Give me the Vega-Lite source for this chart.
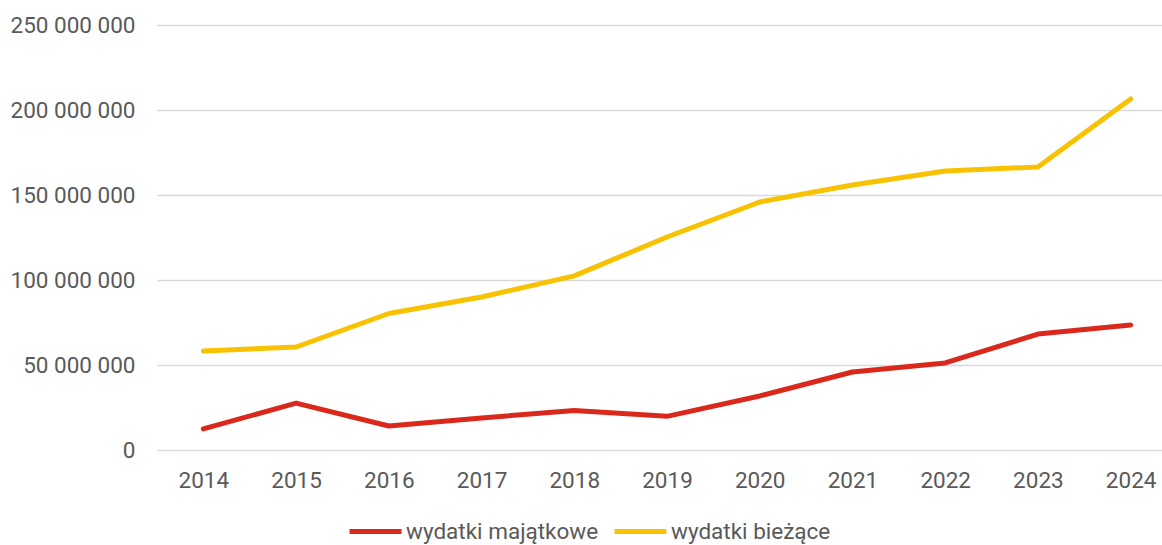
{
  "$schema": "https://vega.github.io/schema/vega-lite/v6.json",
  "autosize": "none",
  "width": 1020,
  "height": 425,
  "padding": {"left": 157, "top": 25, "right": 0, "bottom": 95},
  "background": "white",
  "config": {
    "font": "Roboto",
    "view": {"stroke": null},
    "locale": {"number": {"decimal": ",", "thousands": " ", "grouping": [3], "currency": ["", ""]}}
  },
  "data": {"values": [
    {"rok": "2014", "seria": "wydatki majątkowe", "wartosc": 12400000},
    {"rok": "2015", "seria": "wydatki majątkowe", "wartosc": 27600000},
    {"rok": "2016", "seria": "wydatki majątkowe", "wartosc": 14100000},
    {"rok": "2017", "seria": "wydatki majątkowe", "wartosc": 18800000},
    {"rok": "2018", "seria": "wydatki majątkowe", "wartosc": 23300000},
    {"rok": "2019", "seria": "wydatki majątkowe", "wartosc": 19800000},
    {"rok": "2020", "seria": "wydatki majątkowe", "wartosc": 31800000},
    {"rok": "2021", "seria": "wydatki majątkowe", "wartosc": 45900000},
    {"rok": "2022", "seria": "wydatki majątkowe", "wartosc": 51200000},
    {"rok": "2023", "seria": "wydatki majątkowe", "wartosc": 68200000},
    {"rok": "2024", "seria": "wydatki majątkowe", "wartosc": 73500000},
    {"rok": "2014", "seria": "wydatki bieżące", "wartosc": 58200000},
    {"rok": "2015", "seria": "wydatki bieżące", "wartosc": 60600000},
    {"rok": "2016", "seria": "wydatki bieżące", "wartosc": 80300000},
    {"rok": "2017", "seria": "wydatki bieżące", "wartosc": 90000000},
    {"rok": "2018", "seria": "wydatki bieżące", "wartosc": 102400000},
    {"rok": "2019", "seria": "wydatki bieżące", "wartosc": 125300000},
    {"rok": "2020", "seria": "wydatki bieżące", "wartosc": 145900000},
    {"rok": "2021", "seria": "wydatki bieżące", "wartosc": 155900000},
    {"rok": "2022", "seria": "wydatki bieżące", "wartosc": 164100000},
    {"rok": "2023", "seria": "wydatki bieżące", "wartosc": 166500000},
    {"rok": "2024", "seria": "wydatki bieżące", "wartosc": 206500000}
  ]},
  "mark": {"type": "line", "strokeWidth": 5, "strokeCap": "round", "strokeJoin": "round"},
  "encoding": {
    "x": {
      "field": "rok", "type": "ordinal",
      "scale": {"type": "point", "padding": 0.5},
      "axis": {"title": null, "labelAngle": 0, "domain": false, "ticks": false, "labelFontSize": 22.5, "labelColor": "#595959", "labelPadding": 19, "labelFont": "Roboto"}
    },
    "y": {
      "field": "wartosc", "type": "quantitative",
      "scale": {"domain": [0, 250000000], "nice": false},
      "axis": {"title": null, "values": [0, 50000000, 100000000, 150000000, 200000000, 250000000], "format": ",d", "domain": false, "ticks": false, "labelFontSize": 22.5, "labelColor": "#595959", "labelPadding": 22, "gridColor": "#d9d9d9", "gridWidth": 1.5, "labelFont": "Roboto"}
    },
    "color": {
      "field": "seria", "type": "nominal",
      "scale": {"domain": ["wydatki majątkowe", "wydatki bieżące"], "range": ["#DA291C", "#F8C200"]},
      "legend": {
        "title": null, "orient": "none", "direction": "horizontal",
        "legendX": 190, "legendY": 478,
        "symbolType": "stroke", "symbolSize": 2700, "symbolStrokeWidth": 5,
        "labelFontSize": 22.5, "labelColor": "#595959", "labelOffset": 2,
        "columnPadding": 5, "labelFont": "Roboto", "labelLimit": 300
      }
    }
  }
}
